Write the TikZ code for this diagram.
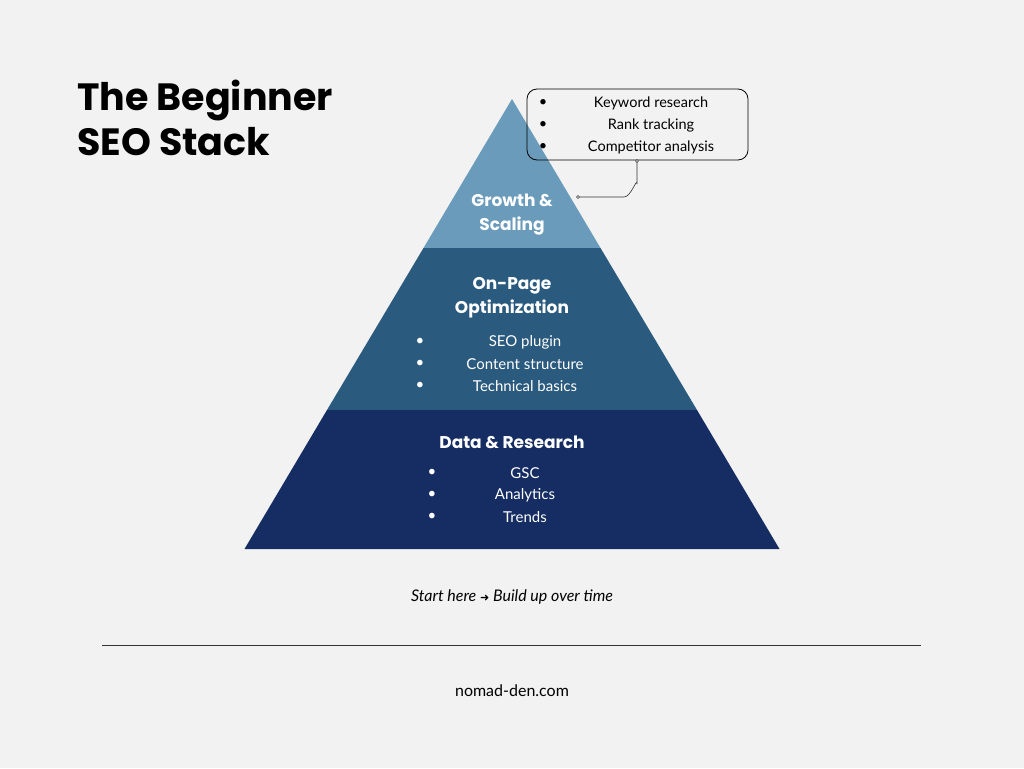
\documentclass[tikz,border=0pt]{standalone}
\usepackage{fontspec}
\setmainfont{Lato}
\newfontfamily\pop{Poppins}
\newfontfamily\djv{DejaVu Sans}
\definecolor{bg}{HTML}{F2F2F2}
\definecolor{ctop}{HTML}{6A9BBA}
\definecolor{cmid}{HTML}{2A5A7E}
\definecolor{cbot}{HTML}{152D62}
\tikzset{
 lt/.style={font=\pop\bfseries\fontsize{17}{24}\selectfont,text=white,align=center},
 it/.style={font=\fontsize{15}{22}\selectfont,text=white,anchor=center},
 bl/.style={font=\fontsize{15}{22}\selectfont,text=white},
 ct/.style={font=\fontsize{14.5}{22}\selectfont,text=black,anchor=center},
 bk/.style={font=\fontsize{14.5}{22}\selectfont,text=black}
}
\begin{document}
\begin{tikzpicture}[x=1pt,y=-1pt]
\fill[bg] (0,0) rectangle (1024,768);
\useasboundingbox (0,0) rectangle (1024,768);
\fill[ctop] (512,99) -- (600.5,248) -- (423.5,248) -- cycle;
\fill[cmid] (423.5,248) -- (600.5,248) -- (697,410) -- (327,410) -- cycle;
\fill[cbot] (327,410) -- (697,410) -- (779.5,549) -- (244.5,549) -- cycle;
\node[font=\pop\bfseries\fontsize{38}{45}\selectfont,align=left,anchor=north west,inner sep=0] (title) at (77,80) {The Beginner\\SEO Stack};
\node[lt] (g) at (512,215) {Growth \&\\Scaling};
\node[lt] (o) at (512,298) {On-Page\\Optimization};
\node[lt] (d) at (512,442) {Data \& Research};
\foreach \y/\t [count=\i] in {342/SEO plugin,364/Content structure,386/Technical basics}{
 \node[bl] (ob\i) at (420,\y) {•}; \node[it] (ot\i) at (525,\y) {\t};}
\foreach \y/\t [count=\i] in {473/GSC,495/Analytics,517/Trends / Keywords}{
 \node[bl] (db\i) at (432,\y) {•}; \node[it] (dt\i) at (525,\y) {\t};}
\node[draw=black,line width=0.8pt,rounded corners=10pt,minimum width=221pt,minimum height=71pt,inner sep=0] (call) at (637.5,124.5) {};
\foreach \y/\t [count=\i] in {103/Keyword research,125/Rank tracking,147/Competitor analysis}{
 \node[bk] (cb\i) at (543,\y) {•}; \node[ct] (ct\i) at (651,\y) {\t};}
\coordinate (ca) at (637,161);
\coordinate (ce) at (578,197);
\draw[line width=0.6pt,black!80] (ca) -- (637,184) to[out=90,in=0] (624,197) -- (ce);
\draw[black!80,fill=white,line width=0.4pt] (ca) circle (1.5pt) (ce) circle (1.5pt);
\node[font=\itshape\fontsize{16}{20}\selectfont] (ft) at (512,597) {Start here {\djv\fontsize{11}{12}\selectfont ➜} Build up over time};
\coordinate (l1) at (102,645); \coordinate (l2) at (921,645);
\draw[line width=0.7pt,black!80] (l1) -- (l2);
\node[font=\fontsize{16}{20}\selectfont] (url) at (512,691) {nomad-den.com};
\end{tikzpicture}
\end{document}
